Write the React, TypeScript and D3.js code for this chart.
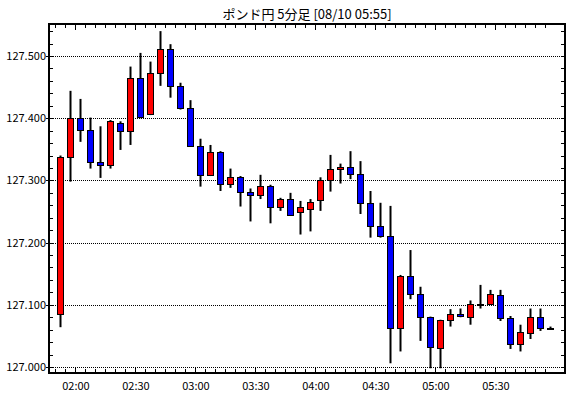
import * as React from "react";
import * as d3 from "d3";

const title = "ポンド円 5分足 [08/10 05:55]";
const startTime = "01:50";
const opens = [
  127.085, 127.338, 127.401, 127.381, 127.329, 127.324, 127.393, 127.379, 127.464, 127.406,
  127.472, 127.512, 127.451, 127.417, 127.356, 127.308, 127.345, 127.295, 127.306, 127.281,
  127.276, 127.291, 127.258, 127.27, 127.249, 127.254, 127.268, 127.3, 127.318, 127.321,
  127.311, 127.263, 127.226, 127.21, 127.062, 127.147, 127.117, 127.08, 127.03, 127.075,
  127.085, 127.081, 127.102, 127.102, 127.115, 127.078, 127.037, 127.054, 127.08, 127.063,
];
const highs = [
  127.34, 127.444, 127.431, 127.401, 127.387, 127.397, 127.395, 127.483, 127.505, 127.491,
  127.54, 127.519, 127.457, 127.429, 127.367, 127.357, 127.347, 127.319, 127.307, 127.287,
  127.309, 127.293, 127.272, 127.28, 127.267, 127.27, 127.305, 127.341, 127.327, 127.347,
  127.331, 127.283, 127.264, 127.259, 127.148, 127.188, 127.129, 127.081, 127.076, 127.093,
  127.094, 127.107, 127.132, 127.124, 127.124, 127.082, 127.068, 127.094, 127.094, 127.065,
];
const lows = [
  127.064, 127.298, 127.362, 127.319, 127.304, 127.319, 127.349, 127.357, 127.4, 127.405,
  127.452, 127.433, 127.414, 127.355, 127.29, 127.307, 127.283, 127.288, 127.258, 127.234,
  127.27, 127.231, 127.251, 127.243, 127.213, 127.218, 127.251, 127.282, 127.295, 127.302,
  127.246, 127.208, 127.208, 127.006, 127.025, 127.109, 127.042, 126.998, 126.998, 127.065,
  127.08, 127.068, 127.094, 127.102, 127.074, 127.029, 127.025, 127.045, 127.058, 127.061,
];
const closes = [
  127.338, 127.401, 127.381, 127.329, 127.324, 127.395, 127.379, 127.464, 127.402, 127.473,
  127.512, 127.451, 127.417, 127.356, 127.308, 127.345, 127.295, 127.306, 127.281, 127.276,
  127.291, 127.258, 127.27, 127.245, 127.257, 127.265, 127.3, 127.318, 127.321, 127.311,
  127.263, 127.226, 127.21, 127.062, 127.147, 127.117, 127.08, 127.032, 127.075, 127.085,
  127.082, 127.101, 127.101, 127.118, 127.078, 127.037, 127.056, 127.08, 127.063, 127.062,
];
const xTickLabels = ["02:00", "02:30", "03:00", "03:30", "04:00", "04:30", "05:00", "05:30"];
const yTickLabels = ["127.000", "127.100", "127.200", "127.300", "127.400", "127.500"];

const W = 570;
const H = 398;
const left = 49;
const right = 565;
const top = 24;
const bottom = 373;
const font = "'Noto Sans CJK JP', 'Liberation Sans', sans-serif";

const toMin = (s: string) => {
  const [h, m] = s.split(":").map(Number);
  return h * 60 + m;
};

const App = () => {
  const t0 = toMin(startTime);
  const n = opens.length;
  // minutes since start -> px
  const x = d3.scaleLinear().domain([0, n * 5]).range([55, 555]);
  const y = d3.scaleLinear().domain([127.0, 127.5]).range([367, 56]);
  const crisp = (v: number) => Math.round(v) + 0.5;

  const minorY = d3.range(0, 28).map(i => 127.0 + i * 0.02);
  const minorX = d3.range(0, n).map(i => i * 5);

  return (
    <svg width={W} height={H} style={{ position: "absolute", left: 0, top: 0, background: "#fff" }}
      fontFamily={font}>
      <rect width={W} height={H} fill="#fff" />
      <text x={(left + right) / 2} y={19} textAnchor="middle" fontSize={13} fill="#000">{title}</text>

      {yTickLabels.map(l => (
        <g key={l}>
          <line x1={left} x2={right} y1={crisp(y(+l))} y2={crisp(y(+l))} stroke="#000" strokeDasharray="1,1" />
          <line x1={left - 3} x2={left} y1={crisp(y(+l))} y2={crisp(y(+l))} stroke="#000" />
          <text x={left - 3} y={y(+l) + 4} textAnchor="end" fontSize={11} fill="#000">{l}</text>
        </g>
      ))}
      {minorY.map(v => (
        <g key={v}>
          <line x1={left} x2={left + 4} y1={crisp(y(v))} y2={crisp(y(v))} stroke="#000" />
          <line x1={right - 4} x2={right} y1={crisp(y(v))} y2={crisp(y(v))} stroke="#000" />
        </g>
      ))}
      {minorX.map(m => {
        const major = (t0 + m) % 30 === 0;
        const len = major ? 6 : 4;
        return (
          <g key={m}>
            <line x1={crisp(x(m))} x2={crisp(x(m))} y1={bottom} y2={bottom - len} stroke="#000" />
            <line x1={crisp(x(m))} x2={crisp(x(m))} y1={top} y2={top + len} stroke="#000" />
          </g>
        );
      })}
      {xTickLabels.map(l => (
        <text key={l} x={x(toMin(l) - t0) + 1} y={390} textAnchor="middle" fontSize={11} fill="#000">{l}</text>
      ))}

      {opens.map((o, i) => {
        const c = closes[i];
        const cx = Math.round(x(i * 5 + 2.5));
        const yt = Math.round(y(Math.max(o, c)));
        const yb = Math.max(Math.round(y(Math.min(o, c))), yt + 1);
        return (
          <g key={i}>
            <line x1={cx + 0.5} x2={cx + 0.5} y1={y(highs[i])} y2={y(lows[i])} stroke="#000" strokeWidth={2} />
            <rect x={cx - 2.5} y={yt + 0.5} width={6} height={yb - yt} fill={c >= o ? "#ff0000" : "#0000ff"}
              stroke="#000" strokeWidth={1} />
          </g>
        );
      })}

      <rect x={left} y={top} width={right - left} height={bottom - top} fill="none" stroke="#000" strokeWidth={2} />
    </svg>
  );
};

export default App;
